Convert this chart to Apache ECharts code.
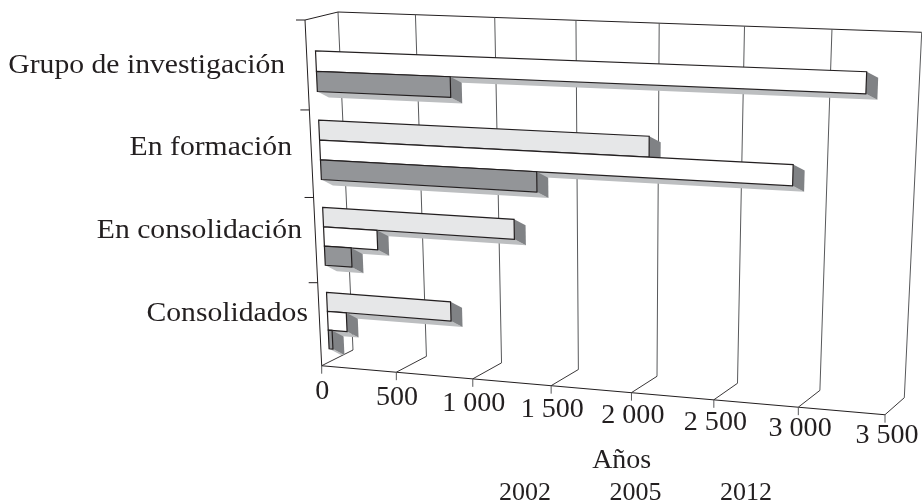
<!DOCTYPE html>
<html><head><meta charset="utf-8">
<style>html,body{margin:0;padding:0;background:#fff}#c{width:922px;height:502px}</style>
<script src="https://cdn.jsdelivr.net/npm/echarts@6/dist/echarts.min.js"></script>
</head><body><div id="c"></div>
<script>
const categories = ['Grupo de investigación', 'En formación', 'En consolidación', 'Consolidados'];
const values2002 = [null, 2060, 1234, 818];
const values2005 = [3292, 2898, 353, 127];
const values2012 = [853, 1379, 178, 26];
const xTicks = [0, 500, 1000, 1500, 2000, 2500, 3000, 3500];
const xTickLabels = ['0', '500', '1 000', '1 500', '2 000', '2 500', '3 000', '3 500'];
const yearNames = ['2002', '2005', '2012'];
const axisTitle = 'Años';

// Perspective frame: unit square of the hidden grid -> picture planes
const FRONT = [[305, 20], [900.7, 38.5], [885, 414.7], [321.7, 365.7]];
const BACK = [[338, 12], [921.7, 32.3], [904.3, 397.7], [353, 350]];
const BARS = [[313.9, 15.8], [906.4, 34.9], [890.2, 410.6], [329.7, 362]];
const FONT = '"Liberation Serif", serif';
const INK = '#231f20', GRID = '#58595b';
const DEPTH = [11.5, 6];
const BAR_FRAC = 0.226;
const CAT_NUDGE = [[-22, 0], [-19.5, -6.5], [-13.6, -9.5], [-11.7, -10.7]];

function homography(q) {
  const [[x0, y0], [x1, y1], [x2, y2], [x3, y3]] = q;
  const dx1 = x1 - x2, dx2 = x3 - x2, sx = x0 - x1 + x2 - x3;
  const dy1 = y1 - y2, dy2 = y3 - y2, sy = y0 - y1 + y2 - y3;
  const den = dx1 * dy2 - dx2 * dy1;
  const g = (sx * dy2 - dx2 * sy) / den, h = (dx1 * sy - sx * dy1) / den;
  const a = x1 - x0 + g * x1, b = x3 - x0 + h * x3, d = y1 - y0 + g * y1, e = y3 - y0 + h * y3;
  return (u, t) => {
    const w = g * u + h * t + 1;
    return [(a * u + b * t + x0) / w, (d * u + e * t + y0) / w];
  };
}
const front = homography(FRONT), back = homography(BACK), barPlane = homography(BARS);
const unit = (params, p) => {
  const c = params.coordSys;
  return [(p[0] - c.x) / c.width, (p[1] - c.y) / c.height];
};
const line = (a, b, color, w) => ({
  type: 'line', shape: { x1: a[0], y1: a[1], x2: b[0], y2: b[1] },
  style: { stroke: color, lineWidth: w, fill: null }
});
const poly = (pts, fill, stroke, w) => ({
  type: 'polygon', shape: { points: pts },
  style: stroke ? { fill, stroke, lineWidth: w, lineJoin: 'miter' } : { fill, lineWidth: 0 }
});
const text = (s, p, align, scaleX, size) => ({
  type: 'text', x: p[0], y: p[1], scaleX: scaleX || 1,
  style: { text: s, x: 0, y: 0, fill: INK, fontFamily: FONT, fontSize: size || 26, align: align, verticalAlign: 'middle' }
});
const add = (p, o) => [p[0] + o[0], p[1] + o[1]];

function renderFrame(params, api) {
  const p = unit(params, api.coord([api.value(0), categories[0]]));
  const u = p[0];
  const ft = front(u, 1), bt = back(u, 1), tp = back(u, 0);
  const els = [line(bt, tp, GRID, 1), line(ft, bt, INK, 0.9), line(ft, add(ft, [0, 8]), GRID, 1)];
  const lift = 26.5 - 5 * u;
  els.push(text(xTickLabels[params.dataIndex], add(ft, [0.5 + 1.5 * u, lift]), 'center', 1.04, 27));
  if (params.dataIndex === 0) {
    const f0 = front(0, 0), f1 = front(0, 1), b0 = back(0, 0), br = back(1, 0), fr = front(1, 1);
    els.push(line(f0, f1, INK, 1), line(f0, b0, INK, 1), line(b0, br, INK, 1), line(f1, fr, INK, 1.1));
  }
  return { type: 'group', children: els };
}

function renderCategory(params, api) {
  const idx = params.dataIndex;
  const c = unit(params, api.coord([0, idx]));
  const hb = api.size([0, 1])[1] / params.coordSys.height;
  const els = [];
  const tick = front(0, c[1] - hb / 2);
  els.push(line(add(tick, [-9, 0]), tick, INK, 1));
  const anchor = add(front(0, c[1]), CAT_NUDGE[idx]);
  els.push(text(categories[idx], anchor, 'right', 1.06, 28));
  return { type: 'group', children: els };
}

const barRender = (slot, fill) => (params, api) => {
  const v = api.value(0);
  if (v == null || isNaN(v)) return null;
  const c = unit(params, api.coord([v, api.value(1)]));
  const hb = api.size([0, 1])[1] / params.coordSys.height;
  const mid = c[1] + (slot - 1) * BAR_FRAC * hb;
  const t0 = mid - BAR_FRAC * hb / 2, t1 = mid + BAR_FRAC * hb / 2;
  const a = barPlane(0, t0), b = barPlane(c[0], t0), d = barPlane(c[0], t1), e = barPlane(0, t1);
  return {
    type: 'group', children: [
      poly([e, d, add(d, DEPTH), add(e, DEPTH)], '#bcbec0'),
      poly([b, d, add(d, DEPTH), add(b, DEPTH)], '#808285'),
      poly([a, b, d, e], fill, INK, 1.2)
    ]
  };
};
const barSeries = (name, vals, slot, fill) => ({
  name, type: 'custom', coordinateSystem: 'cartesian2d', z: 3 + slot,
  data: vals.map((v, i) => [v, i]), encode: { x: 0, y: 1 },
  renderItem: barRender(slot, fill), itemStyle: { color: fill, borderColor: INK }, clip: false, silent: true
});

const chart = echarts.init(document.getElementById('c'), null, { renderer: 'canvas' });
chart.setOption({
  animation: false,
  backgroundColor: '#fff',
  title: {
    text: axisTitle, left: 621.7, top: 447, textAlign: 'center',
    textStyle: { fontFamily: FONT, fontSize: 28, fontWeight: 'normal', color: INK }, padding: 0
  },
  legend: {
    data: yearNames, left: 494, top: 480, padding: 0, itemWidth: 0, itemHeight: 0, itemGap: 53.5,
    selectedMode: false, icon: 'rect',
    textStyle: { fontFamily: FONT, fontSize: 26, color: INK }
  },
  grid: { left: 100, right: 100, top: 50, bottom: 50 },
  xAxis: { type: 'value', min: 0, max: 3500, interval: 500, show: false },
  yAxis: { type: 'category', data: categories, inverse: true, show: false },
  series: [
    {
      name: 'frame', type: 'custom', coordinateSystem: 'cartesian2d', z: 1, silent: true,
      data: xTicks.map(v => [v]), encode: { x: 0 }, renderItem: renderFrame, clip: false
    },
    {
      name: 'categories', type: 'custom', coordinateSystem: 'cartesian2d', z: 2, silent: true,
      data: categories.map((c, i) => [0, i]), encode: { x: 0, y: 1 }, renderItem: renderCategory, clip: false
    },
    barSeries('2002', values2002, 0, '#e6e7e8'),
    barSeries('2005', values2005, 1, '#ffffff'),
    barSeries('2012', values2012, 2, '#939598')
  ]
});
</script></body></html>
